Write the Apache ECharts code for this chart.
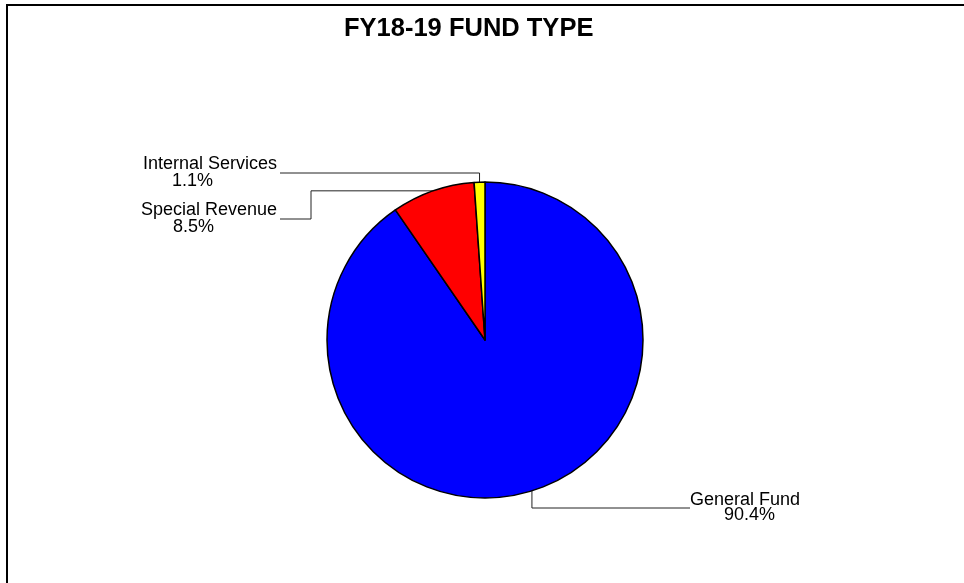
<!DOCTYPE html>
<html>
<head>
<meta charset="utf-8">
<script src="https://cdn.jsdelivr.net/npm/echarts@6/dist/echarts.min.js"></script>
<style>
  html, body { margin: 0; padding: 0; background: #fff; }
  #chart { position: absolute; left: 0; top: 0; width: 964px; height: 583px; }
  #frame { position: absolute; left: 6px; top: 4px; width: 964px; height: 583px;
           border-left: 2px solid #000; border-top: 2px solid #000; pointer-events: none; }
</style>
</head>
<body>
<div id="chart"></div>
<div id="frame"></div>
<script>
// ---- data ----
const categories = ['General Fund', 'Special Revenue', 'Internal Services'];
const values = [90.4, 8.5, 1.1];
const chartTitle = 'FY18-19 FUND TYPE';

// ---- styles / layout (not data) ----
const palette = ['#0000FF', '#FF0000', '#FFFF00'];
// per-label layout: label top-left, second-line indent, line height, leader route
const labelPlacement = [
  { x: 690, y: 493, indent: 34, lh: 15, route: 'down' , lineY: 508, endX: 690 },
  { x: 141, y: 202, indent: 32, lh: 16.6, route: 'elbow', elbowX: 311, lineY: 219, endX: 280 },
  { x: 143, y: 156, indent: 29, lh: 16.6, route: 'up', lineY: 173, endX: 280 }
];

const chart = echarts.init(document.getElementById('chart'), null, { renderer: 'canvas' });

const data = categories.map((name, i) => ({
  name: name,
  value: values[i],
  itemStyle: { color: palette[i] },
  label: {
    rich: {
      a: { fontFamily: 'Liberation Sans', fontSize: 18, color: '#000', lineHeight: labelPlacement[i].lh },
      b: { fontFamily: 'Liberation Sans', fontSize: 18, color: '#000', lineHeight: labelPlacement[i].lh,
           padding: [0, 0, 0, labelPlacement[i].indent] }
    }
  }
}));

chart.setOption({
  backgroundColor: '#ffffff',
  animation: false,
  title: {
    text: chartTitle,
    left: 339,
    top: 11,
    textStyle: { fontFamily: 'Liberation Sans', fontWeight: 'bold', fontSize: 25.5, color: '#000' }
  },
  series: [{
    type: 'pie',
    center: [485, 340],
    radius: 158,
    startAngle: 90,
    clockwise: true,
    avoidLabelOverlap: false,
    itemStyle: { borderColor: '#000', borderWidth: 1.5 },
    emphasis: { disabled: true },
    label: {
      show: true,
      position: 'outside',
      align: 'left',
      formatter: p => '{a|' + p.name + '}\n{b|' + p.value.toFixed(1) + '%}'
    },
    labelLine: { show: true, length: 10, length2: 10, smooth: false,
                 lineStyle: { color: '#222', width: 1 } },
    labelLayout: function (params) {
      const i = params.dataIndex;
      const L = labelPlacement[i];
      const a = params.labelLinePoints[0];
      let pts;
      if (L.route === 'elbow') {
        pts = [[a[0], a[1]], [L.elbowX, a[1]], [L.elbowX, L.lineY], [L.endX, L.lineY]];
      } else {
        pts = [[a[0], a[1]], [a[0], L.lineY], [L.endX, L.lineY]];
      }
      return { x: L.x, y: L.y, align: 'left', verticalAlign: 'top', labelLinePoints: pts };
    },
    data: data
  }]
});
</script>
</body>
</html>
